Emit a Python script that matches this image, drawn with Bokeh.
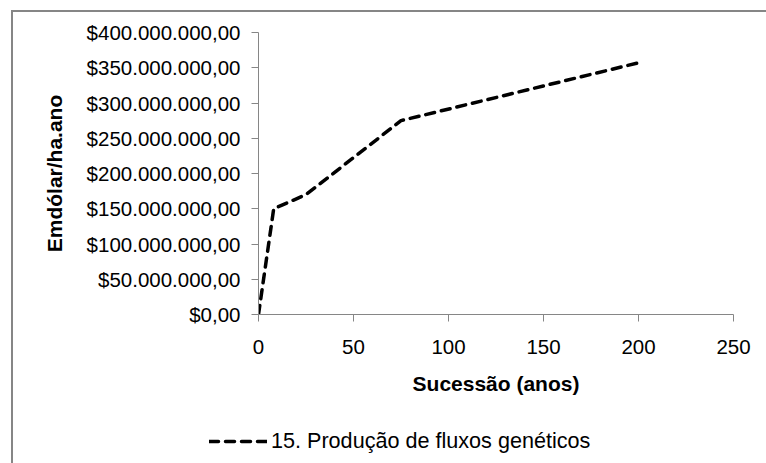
from bokeh.plotting import figure
from bokeh.layouts import column
from bokeh.models import Range1d, FixedTicker, Legend, LegendItem
from bokeh.embed import file_html
from bokeh.resources import INLINE

# Emergy value of genetic-flow production along forest succession
anos = [0, 8, 25, 75, 200]
emdolar = [0, 150_000_000, 170_000_000, 275_000_000, 357_000_000]
serie_nome = "15. Produção de fluxos genéticos"

x_ticks = [0, 50, 100, 150, 200, 250]
y_ticks = [0, 50_000_000, 100_000_000, 150_000_000, 200_000_000,
           250_000_000, 300_000_000, 350_000_000, 400_000_000]


def brl(v):
    s = f"{v:,.2f}"
    return "$" + s.replace(",", "#").replace(".", ",").replace("#", ".")


FONT = "Liberation Sans"
GRAY = "#868686"
LINE_STYLE = dict(line_color="black", line_width=3.5, line_dash="9 7", line_cap="round")

# main chart
p = figure(width=753, height=395, output_backend="svg", toolbar_location=None,
           x_range=Range1d(0, 250), y_range=Range1d(0, 400_000_000),
           min_border_left=245, min_border_right=33,
           min_border_top=20, min_border_bottom=93)
p.outline_line_color = None
p.xgrid.visible = False
p.ygrid.visible = False
p.frame_align = False

p.line(anos, emdolar, **LINE_STYLE)

for ax in (p.xaxis[0], p.yaxis[0]):
    ax.axis_line_color = GRAY
    ax.major_tick_line_color = GRAY
    ax.major_tick_out = 7
    ax.major_tick_in = 0
    ax.minor_tick_line_color = None
    ax.major_label_text_font = FONT
    ax.major_label_text_font_size = "20.5px"
    ax.major_label_text_color = "black"
    ax.axis_label_text_font = FONT
    ax.axis_label_text_font_size = "21px"
    ax.axis_label_text_font_style = "bold"
    ax.axis_label_text_color = "black"

p.xaxis.ticker = FixedTicker(ticks=x_ticks)
p.yaxis.ticker = FixedTicker(ticks=y_ticks)
p.yaxis.major_label_overrides = {t: brl(t) for t in y_ticks}
p.xaxis.major_label_overrides = {t: str(t) for t in x_ticks}
p.xaxis.axis_label = "Sucessão (anos)"
p.yaxis.axis_label = "Emdólar/ha.ano"
p.xaxis.major_label_standoff = 18
p.yaxis.major_label_standoff = 11
p.xaxis.axis_label_standoff = 15
p.yaxis.axis_label_standoff = 18

# legend strip underneath
pl = figure(width=753, height=56, output_backend="svg", toolbar_location=None,
            x_axis_type=None, y_axis_type=None,
            x_range=Range1d(0, 1), y_range=Range1d(0, 1),
            min_border_left=0, min_border_right=0,
            min_border_top=0, min_border_bottom=0,
            outline_line_color=None)
pl.frame_align = False
pl.xgrid.visible = False
pl.ygrid.visible = False
sample = pl.line([float("nan")], [float("nan")], **LINE_STYLE)

legend = Legend(items=[LegendItem(label=serie_nome, renderers=[sample])],
                location=(196, 9), orientation="horizontal",
                glyph_width=58, glyph_height=24, label_standoff=4,
                padding=0, margin=0, border_line_color=None,
                background_fill_alpha=0,
                label_text_font=FONT, label_text_font_size="21.6px",
                label_text_color="black")
pl.add_layout(legend, "center")

layout = column(p, pl, spacing=0)
layout.margin = (10, 0, 0, 11)
layout.styles = {"border-top": f"2px solid {GRAY}", "border-left": f"2px solid {GRAY}",
                 "background-color": "white"}

open("out.html", "w").write(file_html(layout, INLINE))
